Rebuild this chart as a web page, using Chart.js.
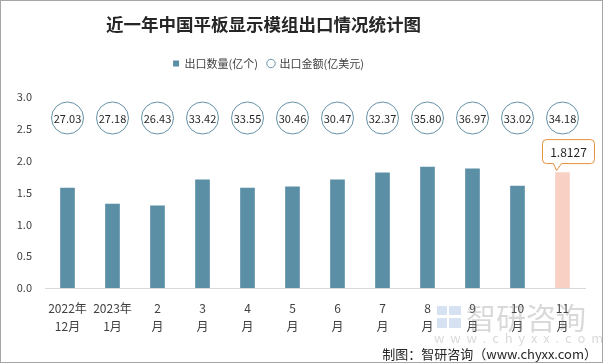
<!DOCTYPE html>
<html>
<head>
<meta charset="utf-8">
<script src="https://cdn.jsdelivr.net/npm/chart.js@4"></script>
<style>
  html, body { margin: 0; padding: 0; background: #fff; }
  #wrap { width: 605px; height: 364px; position: relative; }
</style>
</head>
<body>
<div id="wrap"><canvas id="exportChart"></canvas></div>
<script>
const months = [['2022年', '12月'], ['2023年', '1月'], ['2', '月'], ['3', '月'], ['4', '月'], ['5', '月'],
    ['6', '月'], ['7', '月'], ['8', '月'], ['9', '月'], ['10', '月'], ['11', '月']];
const volume = [1.57, 1.32, 1.29, 1.70, 1.57, 1.59, 1.70, 1.81, 1.90, 1.87, 1.60, 1.8127];
const amount = [27.03, 27.18, 26.43, 33.42, 33.55, 30.46, 30.47, 32.37, 35.80, 36.97, 33.02, 34.18];
const yTicks = [0, 0.5, 1.0, 1.5, 2.0, 2.5, 3.0];

const barBlue = 'rgb(91, 143, 166)';
const barPink = 'rgb(248, 208, 196)';
const ringColor = 'rgb(100, 145, 168)';
const textColor = '#404040';
const cjk = '"Noto Sans CJK SC", "Noto Sans", sans-serif';

// circles with the export amount, drawn as a row above the bars
const ringRow = {
    id: 'ringRow',
    afterDatasetsDraw(chart) {
        const ctx = chart.ctx;
        const x = chart.scales.x;
        const y = chart.scales.y;
        const cy = y.getPixelForValue(2.67);
        ctx.save();
        amount.forEach((v, i) => {
            const cx = x.getPixelForValue(i);
            ctx.beginPath();
            ctx.arc(cx, cy, 16, 0, Math.PI * 2);
            ctx.fillStyle = '#fff';
            ctx.fill();
            ctx.lineWidth = 1;
            ctx.strokeStyle = ringColor;
            ctx.stroke();
            ctx.fillStyle = '#262626';
            ctx.font = '11px ' + cjk;
            ctx.textAlign = 'center';
            ctx.textBaseline = 'middle';
            ctx.fillText(v.toFixed(2), cx, cy + 1);
        });
        ctx.restore();
    }
};

// callout above the last bar
const callout = {
    id: 'callout',
    afterDatasetsDraw(chart) {
        const ctx = chart.ctx;
        const last = volume.length - 1;
        const bar = chart.getDatasetMeta(0).data[last];
        const tipX = bar.x - 6, tipY = bar.y - 2;
        const left = tipX - 14, right = tipX + 38, top = tipY - 31, bottom = tipY - 7;
        const r = 4;
        ctx.save();
        ctx.beginPath();
        ctx.moveTo(left + r, top);
        ctx.lineTo(right - r, top);
        ctx.quadraticCurveTo(right, top, right, top + r);
        ctx.lineTo(right, bottom - r);
        ctx.quadraticCurveTo(right, bottom, right - r, bottom);
        ctx.lineTo(tipX + 5, bottom);
        ctx.lineTo(tipX, tipY);
        ctx.lineTo(tipX - 3, bottom);
        ctx.lineTo(left + r, bottom);
        ctx.quadraticCurveTo(left, bottom, left, bottom - r);
        ctx.lineTo(left, top + r);
        ctx.quadraticCurveTo(left, top, left + r, top);
        ctx.closePath();
        ctx.fillStyle = '#fff';
        ctx.fill();
        ctx.strokeStyle = 'rgb(230, 145, 60)';
        ctx.lineWidth = 1;
        ctx.stroke();
        ctx.fillStyle = '#262626';
        ctx.font = '12px ' + cjk;
        ctx.textAlign = 'center';
        ctx.textBaseline = 'middle';
        ctx.fillText(String(volume[last]), (left + right) / 2, (top + bottom) / 2 + 1);
        ctx.restore();
    }
};

// shifts title/legend left, source line, watermark and frame
function shiftDraw(box, dx) {
    const draw = box.draw;
    box.draw = function (...args) {
        this.ctx.save();
        this.ctx.translate(dx, 0);
        draw.apply(this, args);
        this.ctx.restore();
    };
}

const decor = {
    id: 'decor',
    beforeInit(chart) {
        const fit = chart.legend.fit;
        chart.legend.fit = function () {
            fit.bind(chart.legend)();
            this.height += 18;
        };
        shiftDraw(chart.legend, -24);
        if (chart.titleBlock) shiftDraw(chart.titleBlock, -29);
    },
    beforeDraw(chart) {
        const ctx = chart.ctx;
        ctx.save();
        ctx.fillStyle = '#fff';
        ctx.fillRect(0, 0, chart.width, chart.height);
        ctx.restore();
    },
    afterDraw(chart) {
        const ctx = chart.ctx;
        ctx.save();
        // watermark
        ctx.globalAlpha = 0.3;
        ctx.fillStyle = 'rgb(120, 160, 210)';
        ctx.fillRect(437, 306, 10, 9);
        ctx.fillRect(449, 306, 12, 9);
        ctx.fillRect(437, 318, 10, 10);
        ctx.fillRect(449, 318, 12, 10);
        ctx.fillStyle = 'rgb(130, 130, 130)';
        ctx.font = '30px ' + cjk;
        ctx.textAlign = 'left';
        ctx.textBaseline = 'middle';
        ctx.fillText('智研咨询', 466, 318);
        ctx.font = '13px ' + cjk;
        ctx.fillText('w  w  w  .  c  h  y  x  x  .  c  o  m', 434, 338);
        ctx.globalAlpha = 1;
        // source
        ctx.fillStyle = '#262626';
        ctx.font = '13px ' + cjk;
        ctx.textAlign = 'right';
        ctx.fillText('制图：智研咨询（www.chyxx.com）', 597, 354);
        // frame
        ctx.strokeStyle = '#a6a6a6';
        ctx.lineWidth = 1;
        ctx.strokeRect(0.5, 0.5, 602, 362);
        ctx.restore();
    }
};

new Chart(document.getElementById('exportChart'), {
    type: 'bar',
    data: {
        labels: months,
        datasets: [{
            label: '出口数量(亿个)',
            data: volume,
            backgroundColor: volume.map((v, i) => i === volume.length - 1 ? barPink : barBlue),
            barThickness: 14,
            order: 2
        }, {
            type: 'line',
            label: '出口金额(亿美元)',
            data: amount,
            yAxisID: 'yAmt',
            showLine: false,
            pointRadius: 0,
            pointHoverRadius: 0,
            backgroundColor: '#fff',
            borderColor: ringColor,
            borderWidth: 1,
            pointStyle: 'circle',
            order: 1
        }]
    },
    options: {
        responsive: true,
        maintainAspectRatio: false,
        animation: false,
        layout: { padding: { top: 0, right: 20, bottom: 0, left: 0 } },
        plugins: {
            title: {
                display: true,
                text: '近一年中国平板显示模组出口情况统计图',
                color: '#262626',
                font: { size: 17.5, weight: 'bold', family: cjk },
                padding: { top: 14, bottom: 13 }
            },
            legend: {
                position: 'top',
                labels: {
                    color: textColor,
                    font: { size: 11, family: cjk },
                    usePointStyle: true,
                    padding: 10,
                    boxWidth: 6,
                    boxHeight: 6,
                    generateLabels() {
                        return [{
                            text: '出口数量(亿个)',
                            fillStyle: barBlue,
                            strokeStyle: barBlue,
                            lineWidth: 0,
                            pointStyle: 'rect',
                            fontColor: textColor,
                            datasetIndex: 0
                        }, {
                            text: '出口金额(亿美元)',
                            fillStyle: '#fff',
                            strokeStyle: ringColor,
                            lineWidth: 1,
                            pointStyle: 'circle',
                            fontColor: textColor,
                            datasetIndex: 1
                        }];
                    }
                }
            },
            tooltip: { enabled: false }
        },
        scales: {
            x: {
                grid: { display: false },
                border: { color: '#d9d9d9' },
                ticks: {
                    color: textColor,
                    font: { size: 12, family: cjk, lineHeight: 1.5 },
                    padding: 3,
                    maxRotation: 0,
                    autoSkip: false
                },
                afterFit(s) { s.height = 76; }
            },
            y: {
                min: 0,
                max: 3,
                grid: { display: false },
                border: { display: false },
                afterBuildTicks(s) { s.ticks = yTicks.map(v => ({ value: v })); },
                ticks: {
                    color: textColor,
                    font: { size: 11, family: cjk },
                    padding: 5,
                    callback: v => v.toFixed(1)
                },
                afterFit(s) { s.width = 45; }
            },
            yAmt: { display: false, min: 0, max: 40 }
        }
    },
    plugins: [ringRow, callout, decor]
});
</script>
</body>
</html>
